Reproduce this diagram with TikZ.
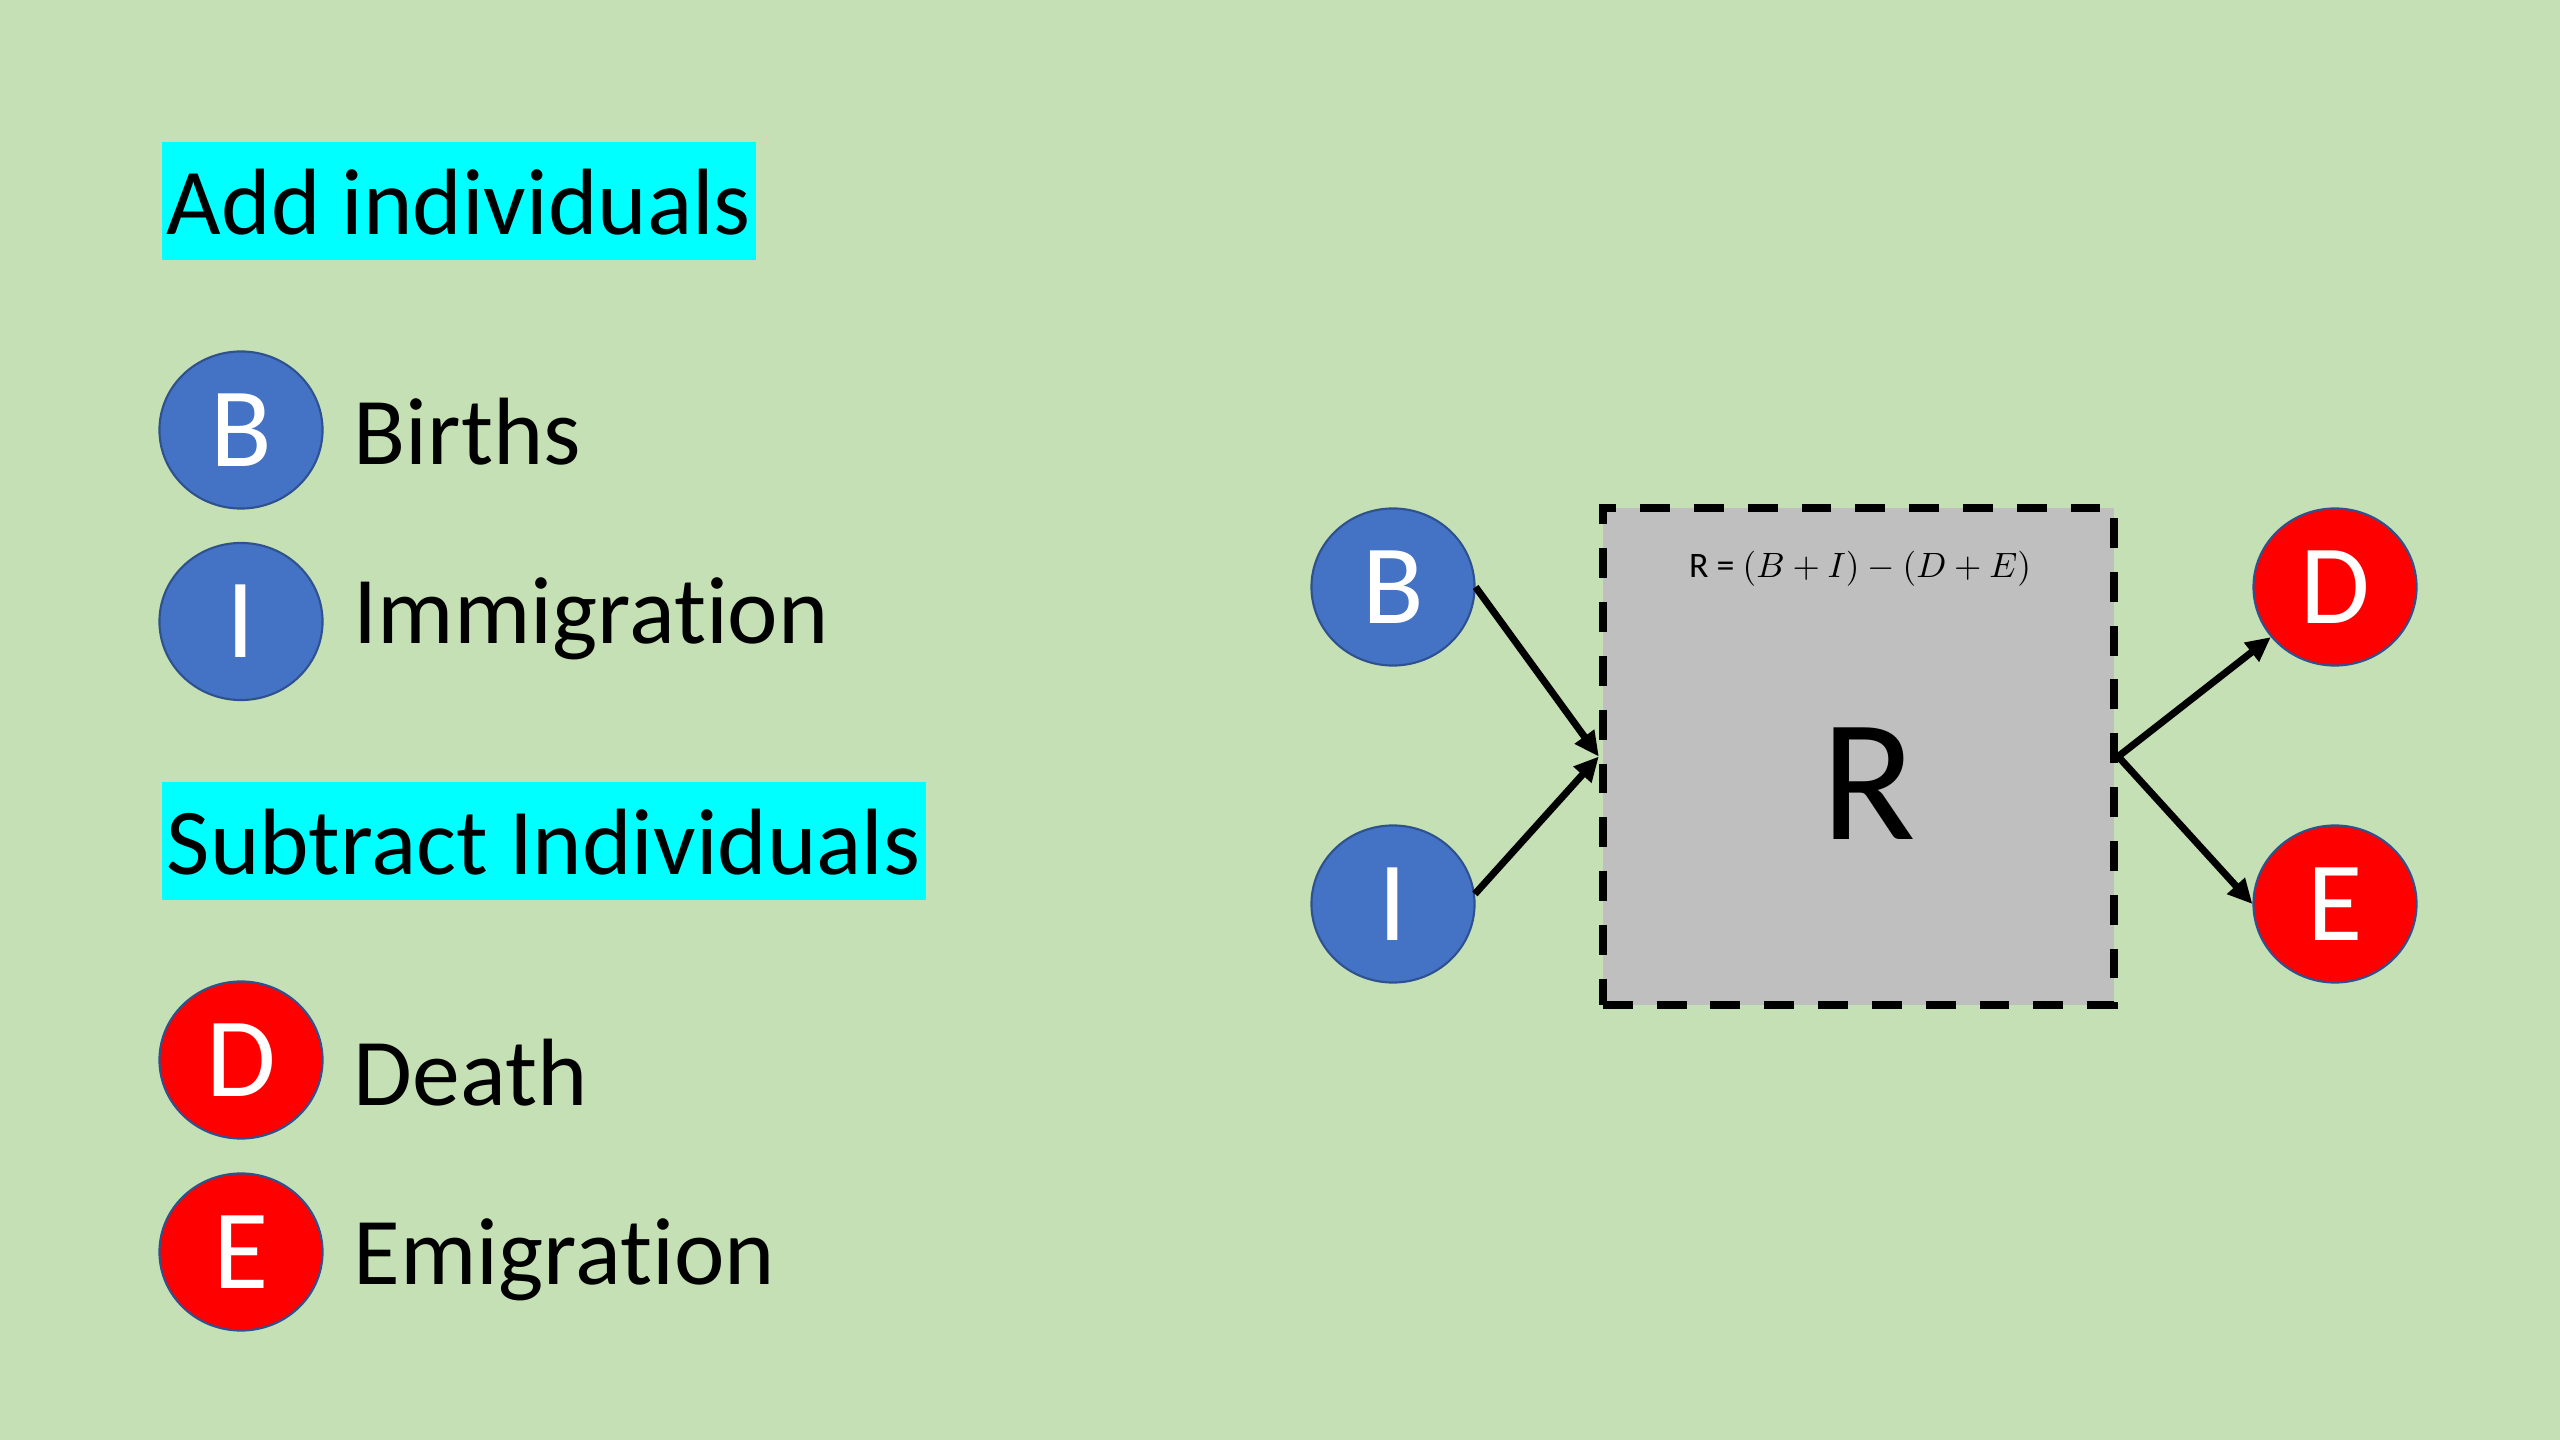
\documentclass[tikz,border=0pt]{standalone}
\usepackage{fontspec}
\setmainfont{Carlito}[Ligatures=NoCommon]
\usetikzlibrary{shapes.geometric,arrows.meta}
\definecolor{bggreen}{HTML}{C5E0B4}
\definecolor{nodeblue}{HTML}{4472C4}
\definecolor{nodeborder}{HTML}{2F528F}
\definecolor{boxgray}{HTML}{BFBFBF}
\definecolor{hlcyan}{HTML}{00FFFF}
\begin{document}
\begin{tikzpicture}[x=0.01cm,y=-0.01cm,
  blueball/.style={ellipse, draw=nodeborder, line width=0.6pt, fill=nodeblue,
    minimum width=1.63cm, minimum height=1.57cm, inner sep=0pt, text=white,
    font=\fontsize{32.2}{36}\selectfont},
  redball/.style={blueball, fill=red},
  header/.style={fill=hlcyan, anchor=base west, inner xsep=1.5pt, inner ysep=0pt,
    text height=26.5pt, text depth=7.1pt, font=\fontsize{26.8}{32}\selectfont},
  legendtext/.style={anchor=base west, inner sep=0pt, font=\fontsize{27.2}{32}\selectfont},
  flow/.style={line width=2pt, -{Triangle[length=7pt,width=6.5pt]}},
  poolbox/.style={rectangle, fill=boxgray, draw=black, line width=2.3pt,
    dash pattern=on 8.5pt off 6.8pt, minimum width=5.11cm, minimum height=4.97cm, inner sep=0pt},
]
\path[fill=bggreen] (0,0) rectangle (2560,1440);
\path[use as bounding box] (0,0) rectangle (2560,1440);

% legend
\node[header] (hadd) at (161,235) {Add individuals};
\node[blueball] (lB) at (241,430) {B};
\node[legendtext] (tB) at (353,465) {Births};
\node[blueball] (lI) at (241,621.5) {I};
\node[legendtext] (tI) at (353,644) {Immigration};

\node[header] (hsub) at (161,875) {Subtract Individuals};
\node[redball] (lD) at (241,1060) {D};
\node[legendtext] (tD) at (353,1105) {Death};
\node[redball] (lE) at (241,1252) {E};
\node[legendtext] (tE) at (353,1284) {Emigration};

% diagram
\node[poolbox] (box) at (1858.5,756.5) {};
\node[anchor=base, inner sep=0pt, font=\fontsize{10.2}{12}\selectfont] (formula) at (1860,578)
  {R = $(B + I) - (D + E)$};
\node[anchor=base, inner sep=0pt, font=\fontsize{49.5}{56}\selectfont] (bigR) at (1869,840) {R};

\node[blueball] (rB) at (1393,587) {B};
\node[blueball] (rI) at (1393,904) {I};
\node[redball] (rD) at (2335,587) {D};
\node[redball] (rE) at (2335,904) {E};

\draw[flow] (rB.east) -- (box.west);
\draw[flow] (rI.7) -- (box.west);
\draw[flow] (box.east) -- (rD);
\draw[flow] (box.east) -- (rE.west);
\end{tikzpicture}
\end{document}
